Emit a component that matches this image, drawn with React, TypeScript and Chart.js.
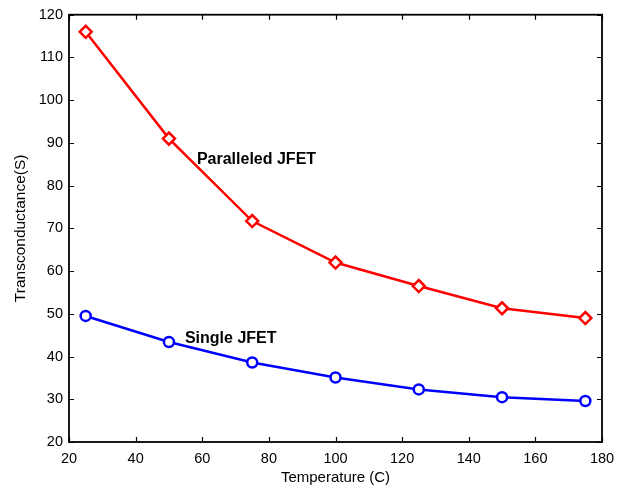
import React, { useEffect, useRef } from "react";
import { Chart, registerables } from "chart.js";

Chart.register(...registerables);

const temperatures = [25, 50, 75, 100, 125, 150, 175];
const paralleledJfet = [116, 91, 71.7, 62, 56.5, 51.3, 49];
const singleJfet = [49.5, 43.4, 38.6, 35.1, 32.3, 30.5, 29.6];
const xTickValues = [20, 40, 60, 80, 100, 120, 140, 160, 180];
const yTickValues = [20, 30, 40, 50, 60, 70, 80, 90, 100, 110, 120];
const labelTexts = ["Paralleled JFET", "Single JFET"];
const labelX = [58.4, 54.8];
const labelY = [86, 44.2];

const FONT = "'Liberation Sans', Arial, Helvetica, sans-serif";

const framePlugin = {
  id: "matlabFrame",
  afterDatasetsDraw(chart: any) {
    const { ctx, chartArea, scales } = chart;
    const { left, right, top, bottom } = chartArea;
    const xs = scales.x;
    const ys = scales.y;
    const tl = 5;
    ctx.save();
    ctx.strokeStyle = "#000";
    ctx.lineWidth = 1.2;
    ctx.beginPath();
    for (const v of xTickValues) {
      const px = Math.round(xs.getPixelForValue(v)) + 0.5;
      ctx.moveTo(px, bottom);
      ctx.lineTo(px, bottom - tl);
      ctx.moveTo(px, top);
      ctx.lineTo(px, top + tl);
    }
    for (const v of yTickValues) {
      const py = Math.round(ys.getPixelForValue(v)) + 0.5;
      ctx.moveTo(left, py);
      ctx.lineTo(left + tl, py);
      ctx.moveTo(right, py);
      ctx.lineTo(right - tl, py);
    }
    ctx.stroke();
    ctx.lineWidth = 1.8;
    ctx.strokeRect(left, top, right - left, bottom - top);

    ctx.fillStyle = "#000";
    ctx.font = `bold 16px ${FONT}`;
    ctx.textAlign = "left";
    ctx.textBaseline = "middle";
    labelTexts.forEach((t, i) => {
      ctx.fillText(t, xs.getPixelForValue(labelX[i]), ys.getPixelForValue(labelY[i]));
    });
    ctx.restore();
  },
};

export default function App() {
  const canvasRef = useRef<HTMLCanvasElement | null>(null);

  useEffect(() => {
    if (!canvasRef.current) return;
    const chart = new Chart(canvasRef.current, {
      type: "line",
      data: {
        datasets: [
          {
            label: "Paralleled JFET",
            data: temperatures.map((t, i) => ({ x: t, y: paralleledJfet[i] })),
            borderColor: "#ff0000",
            backgroundColor: "#ffffff",
            borderWidth: 2.5,
            pointStyle: "rectRot",
            pointRadius: 6,
            pointBorderWidth: 2.5,
            pointBackgroundColor: "#ffffff",
            pointBorderColor: "#ff0000",
            tension: 0,
          },
          {
            label: "Single JFET",
            data: temperatures.map((t, i) => ({ x: t, y: singleJfet[i] })),
            borderColor: "#0000ff",
            backgroundColor: "#ffffff",
            borderWidth: 2.5,
            pointStyle: "circle",
            pointRadius: 5,
            pointBorderWidth: 2.5,
            pointBackgroundColor: "#ffffff",
            pointBorderColor: "#0000ff",
            tension: 0,
          },
        ],
      },
      options: {
        animation: false,
        responsive: true,
        maintainAspectRatio: false,
        layout: { padding: { top: 12, right: 24, left: 0, bottom: 0 } },
        plugins: {
          legend: { display: false },
          tooltip: { enabled: false },
        },
        scales: {
          x: {
            type: "linear",
            min: 20,
            max: 180,
            afterBuildTicks: (s: any) => {
              s.ticks = xTickValues.map((v) => ({ value: v }));
            },
            afterFit: (s: any) => {
              s.height = 46;
            },
            grid: { display: false, drawTicks: false },
            border: { display: false },
            ticks: {
              color: "#000",
              padding: 8,
              maxRotation: 0,
              autoSkip: false,
              font: { family: FONT, size: 14.5 },
            },
            title: {
              display: true,
              text: "Temperature (C)",
              color: "#000",
              font: { family: FONT, size: 15 },
              padding: { top: 0, bottom: 1 },
            },
          },
          y: {
            type: "linear",
            min: 20,
            max: 120,
            afterBuildTicks: (s: any) => {
              s.ticks = yTickValues.map((v) => ({ value: v }));
            },
            afterFit: (s: any) => {
              s.width = 69;
            },
            grid: { display: false, drawTicks: false },
            border: { display: false },
            ticks: {
              color: "#000",
              padding: 6,
              autoSkip: false,
              font: { family: FONT, size: 14.5 },
            },
            title: {
              display: true,
              text: "Transconductance(S)",
              color: "#000",
              font: { family: FONT, size: 15.5 },
              padding: { top: 11, bottom: 0 },
            },
          },
        },
      },
      plugins: [framePlugin],
    });
    return () => chart.destroy();
  }, []);

  return (
    <div
      style={{
        position: "absolute",
        left: 0,
        top: 0,
        width: 626,
        height: 488,
        background: "#fff",
      }}
    >
      <canvas ref={canvasRef} />
    </div>
  );
}
